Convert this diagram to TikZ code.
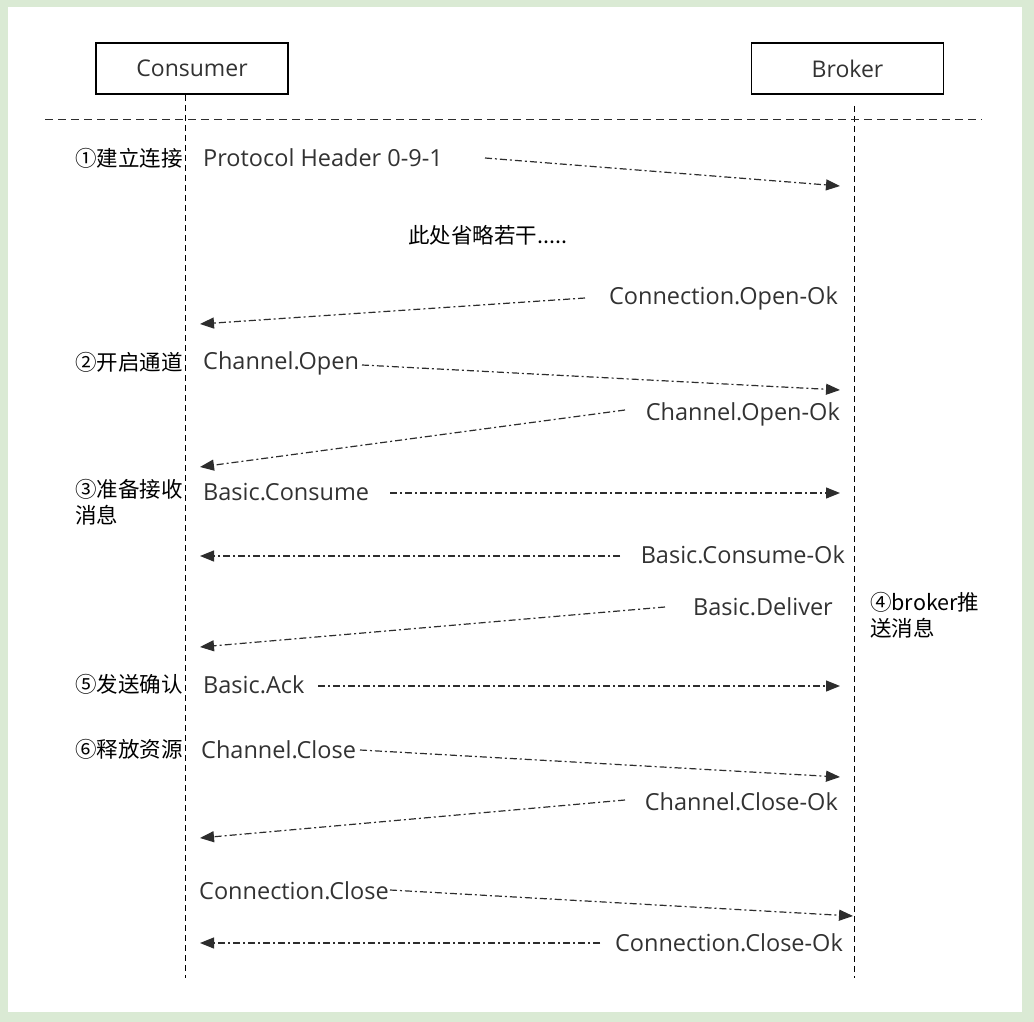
\documentclass[tikz,border=0pt]{standalone}
\usepackage{fontspec}
\setmainfont{Open Sans}
\newfontfamily\cjk{Noto Sans CJK SC}
\usetikzlibrary{arrows.meta,positioning}
\definecolor{frameGreen}{RGB}{218,234,212}
\definecolor{seqGray}{RGB}{50,50,50}
\definecolor{seqLine}{RGB}{45,45,45}

\begin{document}
\begin{tikzpicture}[x=1pt,y=-1pt,
    actorbox/.style={draw=black, line width=1.1pt, minimum width=192pt, minimum height=51pt,
        inner sep=0pt, text=seqGray, font=\fontsize{23}{26}\selectfont},
    lifeline/.style={black, line width=1pt, dash pattern=on 6pt off 4pt},
    msg/.style={seqLine, line width=1.2pt, dash pattern=on 7pt off 3pt on 2pt off 3pt,
        -{Triangle[length=14pt,width=11pt]}},
    msglabel/.style={inner sep=0pt, text=seqGray, font=\fontsize{23.5}{26}\selectfont},
    phase/.style={inner sep=0pt, text=black, align=left, font=\cjk\fontsize{21.5}{26}\selectfont}]
    % frame
    \fill[frameGreen] (0,0) rectangle (1034,1022);
    \fill[white] (8,7) rectangle (1022,1012);
    \useasboundingbox (0,0) rectangle (1034,1022);

    % actors and lifelines
    \node[actorbox] (consumer) at (192,68.5) {Consumer};
    \node[actorbox] (broker) at (847.5,68.5) {Broker};
    \coordinate (cTop) at (185,95);
    \coordinate (cBot) at (185,978);
    \coordinate (bTop) at (854,106);
    \coordinate (bBot) at (854,978);
    \draw[lifeline] (cTop) -- (cBot);
    \draw[lifeline] (bTop) -- (bBot);
    \coordinate (sepL) at (45,120);
    \coordinate (sepR) at (982,120);
    \draw[seqLine, line width=1pt, dash pattern=on 8pt off 5pt] (sepL) -- (sepR);

    % phase notes
    \node[phase, anchor=east] (p1) at (183,158) {①建立连接};
    \node[phase, anchor=east] (p2) at (183,362) {②开启通道};
    \node[phase, anchor=north west] (p3) at (75,479) {③准备接收\\消息};
    \node[phase, anchor=north west] (p4) at (870,592) {④broker推\\送消息};
    \node[phase, anchor=east] (p5) at (183,684) {⑤发送确认};
    \node[phase, anchor=east] (p6) at (183,749) {⑥释放资源};
    \node[phase, anchor=west] (skip) at (408,235) {此处省略若干.....};

    % message texts
    \node[msglabel, anchor=west] (header) at (203,158) {Protocol Header 0-9-1};
    \node[msglabel, anchor=east] (connOk) at (838,298) {Connection.Open-Ok};
    \node[msglabel, anchor=west] (chOpen) at (203,363) {Channel.Open};
    \node[msglabel, anchor=east] (chOk) at (840,414) {Channel.Open-Ok};
    \node[msglabel, anchor=west] (consume) at (203,492) {Basic.Consume};
    \node[msglabel, anchor=east] (consumeOk) at (845,555) {Basic.Consume-Ok};
    \node[msglabel, anchor=east] (deliver) at (833,607) {Basic.Deliver};
    \node[msglabel, anchor=west] (ack) at (203,685) {Basic.Ack};
    \node[msglabel, anchor=west] (chClose) at (201,750) {Channel.Close};
    \node[msglabel, anchor=east] (chCloseOk) at (838,802) {Channel.Close-Ok};
    \node[msglabel, anchor=west] (connClose) at (199,891) {Connection.Close};
    \node[msglabel, anchor=east] (connCloseOk) at (843,943) {Connection.Close-Ok};

    % arrow ends
    \coordinate (m1) at (485,158);    \coordinate (m1e) at (840,186);
    \coordinate (m2) at (585,298);    \coordinate (m2e) at (200,324);
    \coordinate (m3) at (362,365);    \coordinate (m3e) at (840,390);
    \coordinate (m4) at (625,410);    \coordinate (m4e) at (200,467);
    \coordinate (m5) at (390,493);    \coordinate (m5e) at (840,493);
    \coordinate (m6) at (620,556);    \coordinate (m6e) at (200,556);
    \coordinate (m7) at (665,607);    \coordinate (m7e) at (200,647);
    \coordinate (m8) at (318,686);    \coordinate (m8e) at (840,686);
    \coordinate (m9) at (360,750);    \coordinate (m9e) at (840,777);
    \coordinate (m10) at (625,800);   \coordinate (m10e) at (200,838);
    \coordinate (m11) at (390,890);   \coordinate (m11e) at (853,916);
    \coordinate (m12) at (600,943);   \coordinate (m12e) at (200,943);

    % messages
    \foreach \m in {m1,m2,m3,m4,m5,m6,m7,m8,m9,m10,m11,m12}
        \draw[msg] (\m) -- (\m e);
\end{tikzpicture}
\end{document}
